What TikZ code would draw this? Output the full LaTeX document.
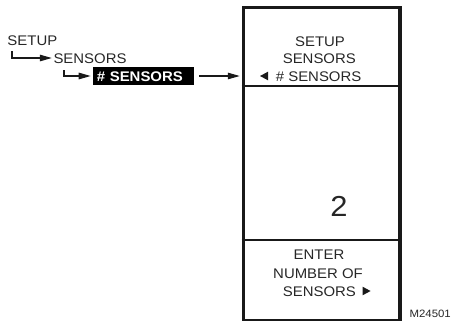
\documentclass[tikz,border=0pt]{standalone}
\usepackage{fontspec}
\setmainfont{Liberation Sans}[FakeStretch=1.07]
\usetikzlibrary{arrows.meta}
\begin{document}
\begin{tikzpicture}[x=1bp,y=-1bp,
  txt/.style={inner sep=0pt, text height=10bp, text depth=0pt, font=\fontsize{14}{16}\selectfont, text=black!85},
  conn/.style={line width=1.2bp, draw=black!90, -{Triangle[length=12bp,width=6.5bp]}},
  tri/.style={fill=black!90}
]
\useasboundingbox (0,0) rectangle (453,320);
% left menu path
\node[txt, anchor=west] (setup) at (7.3,40) {SETUP};
\node[txt, anchor=west] (sensors) at (53.3,58) {SENSORS};
\node[fill=black, text=white, anchor=west, inner xsep=3.7bp, inner ysep=4.15bp,
      text height=10bp, text depth=0pt, text width=93.6bp, align=left,
      font=\fontsize{14}{16}\selectfont\bfseries] (sbox) at (93,76) {\# SENSORS};
\draw[conn] ([xshift=4.7bp,yshift=-6bp]setup.south west) |- ([xshift=-1.5bp]sensors.west);
\draw[conn] ([xshift=10.7bp,yshift=-7bp]sensors.south west) |- ([xshift=-2.3bp]sbox.west);
% screen
\node[draw=black!90, line width=3.5bp, minimum width=156.5bp, minimum height=313bp,
      inner sep=0pt, anchor=north west] (screen) at (241.5,5.5) {};
\coordinate (d1l) at (241.5,86);
\coordinate (d1r) at (398,86);
\coordinate (d2l) at (241.5,240);
\coordinate (d2r) at (398,240);
\draw[line width=1.4bp, draw=black!90] (d1l) -- (d1r);
\draw[line width=1.4bp, draw=black!90] (d2l) -- (d2r);
\draw[conn, shorten >=1.75bp] ([xshift=5bp]sbox.east) -- (sbox.east -| screen.west);
% screen texts
\node[txt] (t1) at (320,41) {SETUP};
\node[txt] (t2) at (319.3,58.3) {SENSORS};
\node[txt, anchor=west] (t3) at (275.7,76) {\# SENSORS};
\fill[tri] ([xshift=-15.7bp]t3.west) -- ++(8bp,-4.3bp) -- ++(0,8.6bp) -- cycle;
\node[inner sep=0pt, text height=20.7bp, text depth=0pt, font=\fontsize{29}{32}\selectfont, text=black!85] (val) at (339,206.3) {2};
\node[txt] (b1) at (319,254.3) {ENTER};
\node[txt] (b2) at (318,273.3) {NUMBER OF};
\node[txt, anchor=west] (b3) at (282.7,291) {SENSORS};
\fill[tri] ([xshift=6.5bp]b3.east) -- ++(0,-4.3bp) -- ++(8bp,4.3bp) -- ++(-8bp,4.3bp) -- cycle;
\node[inner sep=0pt, text height=7.7bp, text depth=0pt, font=\fontsize{10.7}{12}\selectfont, text=black!85, anchor=east] (code) at (451,314) {M24501};
\end{tikzpicture}
\end{document}
